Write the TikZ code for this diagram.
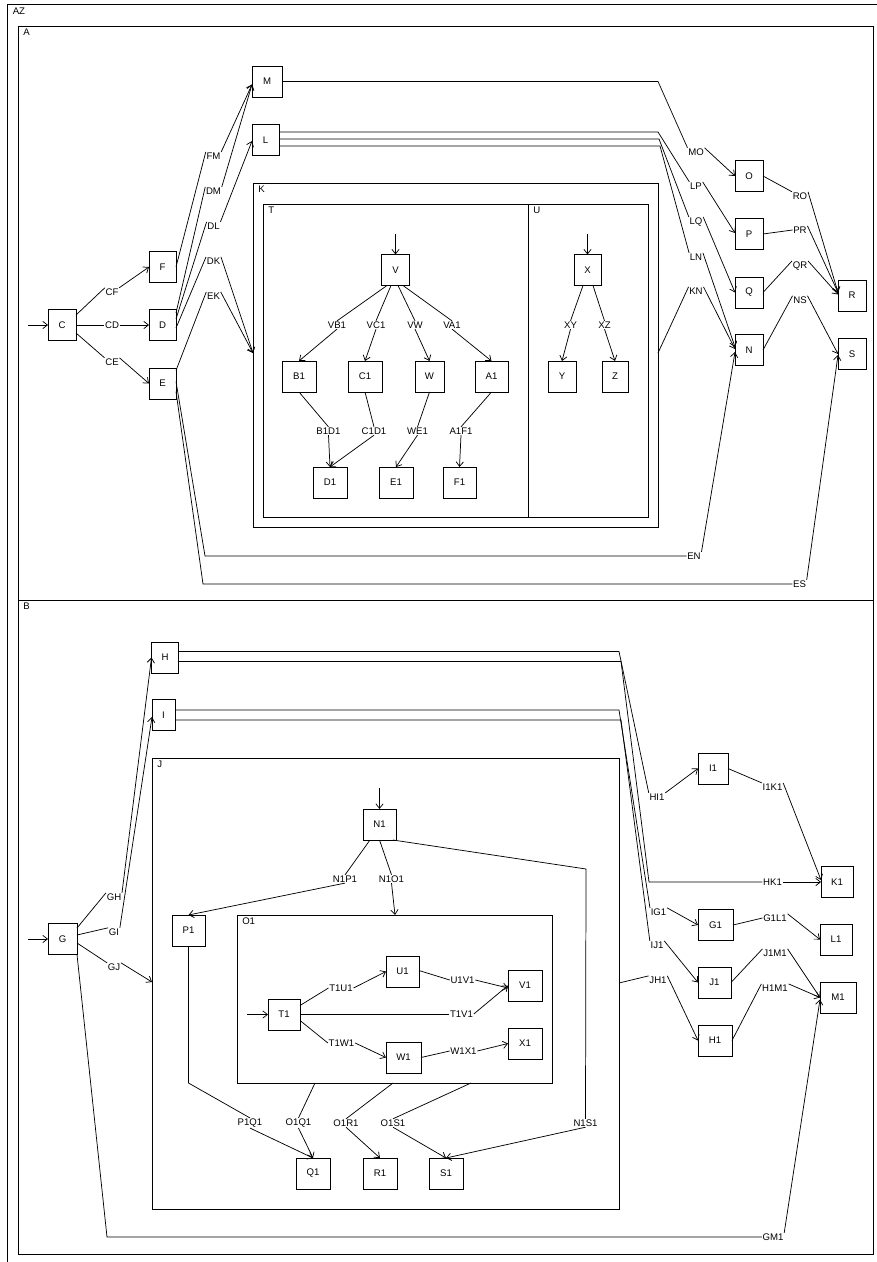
\documentclass[tikz,border=0pt]{standalone}
\usepackage{fontspec}
\setmainfont{Liberation Sans}
\usetikzlibrary{arrows.meta,calc,fit}
\begin{document}
\begin{tikzpicture}[x=0.75pt,y=-0.75pt,
  every node/.style={font=\fontsize{7.2}{8}\selectfont},
  box/.style={draw, line width=0.6pt, minimum width=#1*0.75pt, minimum height=23.25pt, inner sep=0pt, outer sep=0pt},
  box/.default=28,
  frm/.style={draw, line width=0.7pt, inner sep=0pt, outer sep=0pt},
  lb/.style={inner sep=0.6pt, outer sep=0pt},
  ttl/.style={anchor=north west, inner sep=0pt},
  ln/.style={line width=0.55pt},
  arr/.style={ln, -{Straight Barb[length=3.5pt,width=5.5pt]}}]
\useasboundingbox (0,0) rectangle (876,1262);
% ---------- frames ----------
\draw[frm] (880,4) -- (7,4) -- (7,1266);
\node[ttl] at (12.5,8) {AZ};
\node[frm, fit={(18,26) (873,600)}] (A) {};
\node[frm, fit={(18,600) (873,1254)}] (B) {};
\node[frm, fit={(253,183) (658,527)}] (K) {};
\node[frm, fit={(263,204) (528,517)}] (T) {};
\node[frm, fit={(528,204) (648,517)}] (U) {};
\node[frm, fit={(152,758) (619,1209)}] (J) {};
\node[frm, fit={(237,915) (552,1083)}] (O1) {};
\foreach \f in {A,B,K,T,U,J,O1} \node[ttl] at ($(\f.north west)+(5,3)$) {\f};
\coordinate (Kin) at ($(K.north west)+(0,170)$);
\coordinate (Kout) at ($(K.north east)+(0,170)$);
\coordinate (Jin) at ($(J.north west)+(0,224)$);
\coordinate (Jout) at ($(J.north east)+(0,225)$);
\coordinate (O1in) at ($(O1.north west)+(158,0)$);
% ---------- boxes A ----------
\node[box] (C) at (62,325) {C};
\node[box=27] (F) at (162.5,267) {F};
\node[box=27] (D) at (162.5,325) {D};
\node[box=27] (E) at (162.5,383.5) {E};
\node[box=30] (M) at (267,81.5) {M};
\node[box=27] (L) at (265.5,140) {L};
\node[box] (O) at (749,176) {O};
\node[box] (P) at (749,234) {P};
\node[box] (Q) at (749,292.5) {Q};
\node[box] (N) at (749,350) {N};
\node[box] (R) at (852,295.5) {R};
\node[box] (S) at (852,354) {S};
\node[box] (V) at (395.5,270) {V};
\node[box=34] (B1) at (299,376.5) {B1};
\node[box=34] (C1) at (365,376.5) {C1};
\node[box=29] (W) at (429.5,376.5) {W};
\node[box=33] (A1) at (491.5,376.5) {A1};
\node[box=34] (D1) at (330,482.5) {D1};
\node[box=34] (E1) at (396,482.5) {E1};
\node[box=33] (F1) at (459.5,482.5) {F1};
\node[box=27] (X) at (587.5,270) {X};
\node[box] (Y) at (562,376.5) {Y};
\node[box=26] (Z) at (615,376.5) {Z};
% ---------- labels A ----------
\node[lb] (lCF) at (112,292) {CF};
\node[lb] (lCD) at (112,325) {CD};
\node[lb] (lCE) at (112,362) {CE};
\node[lb] (lFM) at (213.5,156) {FM};
\node[lb] (lDM) at (213.5,191) {DM};
\node[lb] (lDL) at (213.5,226) {DL};
\node[lb] (lDK) at (213.5,261) {DK};
\node[lb] (lEK) at (213.5,296) {EK};
\node[lb] (lMO) at (696,152) {MO};
\node[lb] (lLP) at (696,186) {LP};
\node[lb] (lLQ) at (696,222) {LQ};
\node[lb] (lLN) at (696,257) {LN};
\node[lb] (lKN) at (696,291) {KN};
\node[lb] (lRO) at (800,196) {RO};
\node[lb] (lPR) at (800,230) {PR};
\node[lb] (lQR) at (800,266) {QR};
\node[lb] (lNS) at (800,300) {NS};
\node[lb] (lEN) at (694,556) {EN};
\node[lb] (lES) at (799.5,584) {ES};
\node[lb] (lVB1) at (337,325) {VB1};
\node[lb] (lVC1) at (376,325) {VC1};
\node[lb] (lVW) at (415,325) {VW};
\node[lb] (lVA1) at (452,325) {VA1};
\node[lb] (lXY) at (570.5,325) {XY};
\node[lb] (lXZ) at (604.5,325) {XZ};
\node[lb] (lB1D1) at (328.5,431) {B1D1};
\node[lb] (lC1D1) at (374,431) {C1D1};
\node[lb] (lWE1) at (417.5,431) {WE1};
\node[lb] (lA1F1) at (461,431) {A1F1};
% ---------- edges A ----------
\coordinate (inC) at (28,325);
\draw[arr] (inC) -- (C.west);
\draw[ln] ($(C.east)+(0,-10)$) -- (lCF.north west);
\draw[arr] (lCF.north east) -- (F.west);
\draw[ln] (C.east) -- (lCD.west);
\draw[arr] (lCD.east) -- (D.west);
\draw[ln] ($(C.east)+(0,8)$) -- (lCE.north west);
\draw[arr] (lCE.north east) -- (E.west);
\draw[ln] (F.east) -- (lFM.north west);
\draw[arr] (lFM.north east) -- ($(M.west)+(0,3)$);
\draw[ln] ($(D.east)+(0,-12)$) -- (lDM.north west);
\draw[arr] (lDM.north east) -- ($(M.west)+(0,3)$);
\draw[ln] ($(D.east)+(0,-6)$) -- (lDL.north west);
\draw[arr] (lDL.north east) -- ($(L.west)+(0,1)$);
\draw[ln] ($(D.east)+(0,3)$) -- (lDK.north west);
\draw[arr] (lDK.north east) -- (Kin);
\draw[ln] ($(E.east)+(0,-13)$) -- (lEK.north west);
\draw[arr] (lEK.north east) -- (Kin);
\draw[ln] ($(E.east)+(0,-2)$) -- (205,556) -- (lEN.west);
\draw[arr] (lEN.north east) -- ($(N.west)+(0,2)$);
\draw[ln] ($(E.east)+(0,8)$) -- (203,584) -- (lES.west);
\draw[arr] (lES.north east) -- ($(S.west)+(0,1)$);
\draw[ln] (M.east) -- (658,81.5) -- (lMO.north west);
\draw[arr] (lMO.north east) -- (O.west);
\draw[ln] ($(L.east)+(0,-8)$) -- (658,132) -- (lLP.north west);
\draw[arr] (lLP.north east) -- ($(P.west)+(0,-1)$);
\draw[ln] ($(L.east)+(0,-1)$) -- (659,139) -- (lLQ.north west);
\draw[arr] (lLQ.north east) -- (Q.west);
\draw[ln] ($(L.east)+(0,6)$) -- (660,146) -- (lLN.north west);
\draw[arr] (lLN.north east) -- ($(N.west)+(0,-3)$);
\draw[ln] (Kout) -- (lKN.north west);
\draw[arr] (lKN.north east) -- ($(N.west)+(0,-1)$);
\draw[ln] (O.east) -- (lRO.north west);
\draw[arr] (lRO.north east) -- ($(R.west)+(0,-3)$);
\draw[ln] (P.east) -- (lPR.west);
\draw[arr] (lPR.north east) -- ($(R.west)+(0,-3)$);
\draw[ln] (Q.east) -- (lQR.north west);
\draw[arr] (lQR.north east) -- ($(R.west)+(0,-1)$);
\draw[ln] (N.east) -- (lNS.north west);
\draw[arr] (lNS.north east) -- (S.west);
% tree T / U
\coordinate (inV) at (395.5,234);
\draw[arr] (inV) -- (V.north);
\draw[ln] ($(V.south)+(-8.5,0)$) -- (lVB1.north);
\draw[arr] (lVB1.south) -- (B1.north);
\draw[ln] ($(V.south)+(-4.5,0)$) -- (lVC1.north);
\draw[arr] (lVC1.south) -- (C1.north);
\draw[ln] ($(V.south)+(2.5,0)$) -- (lVW.north);
\draw[arr] (lVW.south) -- (W.north);
\draw[ln] ($(V.south)+(7.5,0)$) -- (lVA1.north);
\draw[arr] (lVA1.south) -- (A1.north);
\coordinate (inX) at (587.5,234);
\draw[arr] (inX) -- (X.north);
\draw[ln] ($(X.south)+(-4.5,0)$) -- (lXY.north);
\draw[arr] (lXY.south) -- (Y.north);
\draw[ln] ($(X.south)+(5.5,0)$) -- (lXZ.north);
\draw[arr] (lXZ.south) -- (Z.north);
\draw[ln] (B1.south) -- (lB1D1.north);
\draw[arr] (lB1D1.south) -- (D1.north);
\draw[ln] (C1.south) -- (lC1D1.north);
\draw[arr] (lC1D1.south) -- (D1.north);
\draw[ln] (W.south) -- (lWE1.north);
\draw[arr] (lWE1.south) -- (E1.north);
\draw[ln] (A1.south) -- (lA1F1.north);
\draw[arr] (lA1F1.south) -- (F1.north);
% ---------- boxes B ----------
\node[box=29] (G) at (62.5,939) {G};
\node[box=27] (H) at (165,657.5) {H};
\node[box=23] (I) at (163.5,715) {I};
\node[box=30] (I1) at (713,768.5) {I1};
\node[box=32] (K1) at (837,882) {K1};
\node[box=35] (G1) at (715.5,925) {G1};
\node[box=32] (L1) at (836,939.5) {L1};
\node[box=33] (J1) at (714.5,982.5) {J1};
\node[box=36] (M1) at (838,997.5) {M1};
\node[box=34] (H1) at (715,1040.5) {H1};
\node[box=33] (N1) at (379.5,824.5) {N1};
\node[box=33] (P1) at (188.5,930.5) {P1};
\node[box=32] (T1) at (284,1014.5) {T1};
\node[box=33] (U1) at (402.5,971.5) {U1};
\node[box=34] (V1) at (525,985.5) {V1};
\node[box=35] (W1) at (403.5,1057.5) {W1};
\node[box=34] (X1) at (525,1043.5) {X1};
\node[box=34] (Q1) at (313,1173.5) {Q1};
\node[box=34] (R1) at (380,1173.5) {R1};
\node[box=34] (S1) at (446,1173.5) {S1};
% ---------- labels B ----------
\node[lb] (lGH) at (114,897) {GH};
\node[lb] (lGI) at (114,932) {GI};
\node[lb] (lGJ) at (114,967) {GJ};
\node[lb] (lGM1) at (773,1237) {GM1};
\node[lb] (lHI1) at (657,797) {HI1};
\node[lb] (lI1K1) at (772.5,787) {I1K1};
\node[lb] (lHK1) at (772.5,882) {HK1};
\node[lb] (lIG1) at (658.5,912) {IG1};
\node[lb] (lG1L1) at (775,918) {G1L1};
\node[lb] (lIJ1) at (657,945) {IJ1};
\node[lb] (lJ1M1) at (775,953) {J1M1};
\node[lb] (lJH1) at (658,980) {JH1};
\node[lb] (lH1M1) at (775,988) {H1M1};
\node[lb] (lN1P1) at (345,879) {N1P1};
\node[lb] (lN1O1) at (391.5,879) {N1O1};
\node[lb] (lN1S1) at (585.5,1123) {N1S1};
\node[lb] (lP1Q1) at (250,1123) {P1Q1};
\node[lb] (lO1Q1) at (298.5,1123) {O1Q1};
\node[lb] (lO1R1) at (346,1123) {O1R1};
\node[lb] (lO1S1) at (393,1123) {O1S1};
\node[lb] (lT1U1) at (341,988) {T1U1};
\node[lb] (lU1V1) at (462.5,980) {U1V1};
\node[lb] (lT1V1) at (461.5,1014) {T1V1};
\node[lb] (lT1W1) at (341.5,1043) {T1W1};
\node[lb] (lW1X1) at (463.5,1051) {W1X1};
% ---------- edges B ----------
\coordinate (inG) at (28,939);
\draw[arr] (inG) -- (G.west);
\draw[ln] ($(G.east)+(0,-11)$) -- (lGH.north west);
\draw[arr] (lGH.north east) -- (H.west);
\draw[ln] ($(G.east)+(0,-4)$) -- (lGI.north west);
\draw[arr] (lGI.north east) -- ($(I.west)+(0,2)$);
\draw[ln] ($(G.east)+(0,4)$) -- (lGJ.north west);
\draw[arr] (lGJ.north east) -- (Jin);
\draw[ln] (G.south east) -- (107,1237) -- (lGM1.west);
\draw[arr] (lGM1.north east) -- ($(M1.west)+(0,2)$);
\draw[ln] ($(H.east)+(0,-6)$) -- (619,651.5) -- (lHI1.north west);
\draw[arr] (lHI1.north east) -- (I1.west);
\draw[ln] ($(H.east)+(0,4)$) -- (621,661.5) -- (649,882) -- (lHK1.west);
\draw[arr] (lHK1.east) -- (K1.west);
\draw[ln] ($(I.east)+(0,-5)$) -- (619,710) -- (lIG1.north west);
\draw[arr] (lIG1.north east) -- (G1.west);
\draw[ln] ($(I.east)+(0,5)$) -- (621,720) -- (lIJ1.north west);
\draw[arr] (lIJ1.north east) -- (J1.west);
\draw[ln] (Jout) -- (lJH1.north west);
\draw[arr] (lJH1.north east) -- (H1.west);
\draw[ln] (I1.east) -- (lI1K1.north west);
\draw[arr] (lI1K1.north east) -- ($(K1.west)+(0,-2)$);
\draw[ln] (G1.east) -- (lG1L1.west);
\draw[arr] (lG1L1.north east) -- (L1.west);
\draw[ln] (J1.east) -- (lJ1M1.north west);
\draw[arr] (lJ1M1.north east) -- (M1.west);
\draw[ln] (H1.east) -- (lH1M1.north west);
\draw[arr] (lH1M1.north east) -- (M1.west);
% J interior
\coordinate (inN1) at (379.5,788);
\draw[arr] (inN1) -- (N1.north);
\draw[ln] ($(N1.south)+(-9.5,0)$) -- (lN1P1.north);
\draw[arr] (lN1P1.south) -- (P1.north);
\draw[ln] (N1.south) -- (lN1O1.north);
\draw[arr] (lN1O1.south) -- (O1in);
\draw[ln] ($(N1.south east)+(-3,0)$) -- (586,869) -- (lN1S1.north);
\draw[arr] (lN1S1.south) -- (S1.north);
\draw[ln] (P1.south) -- (188.5,1083) -- (lP1Q1.north);
\draw[arr] (lP1Q1.south) -- (Q1.north);
\draw[ln] ($(O1.south west)+(78,0)$) -- (lO1Q1.north);
\draw[arr] (lO1Q1.south) -- (Q1.north);
\draw[ln] ($(O1.south west)+(156,0)$) -- (lO1R1.north);
\draw[arr] (lO1R1.south) -- (R1.north);
\draw[ln] ($(O1.south west)+(234,0)$) -- (lO1S1.north);
\draw[arr] (lO1S1.south) -- (S1.north);
% O1 interior
\coordinate (inT1) at (247,1014.5);
\draw[arr] (inT1) -- (T1.west);
\draw[ln] ($(T1.east)+(0,-9)$) -- (lT1U1.west);
\draw[arr] (lT1U1.east) -- (U1.west);
\draw[ln] ($(U1.east)+(0,-1)$) -- (lU1V1.west);
\draw[arr] (lU1V1.east) -- ($(V1.west)+(0,2.5)$);
\draw[ln] ($(T1.east)+(0,-0.5)$) -- (lT1V1.west);
\draw[arr] (lT1V1.east) -- (V1.west);
\draw[ln] ($(T1.east)+(0,6)$) -- (lT1W1.west);
\draw[arr] (lT1W1.east) -- (W1.west);
\draw[ln] (W1.east) -- (lW1X1.west);
\draw[arr] (lW1X1.east) -- (X1.west);
\end{tikzpicture}
\end{document}
